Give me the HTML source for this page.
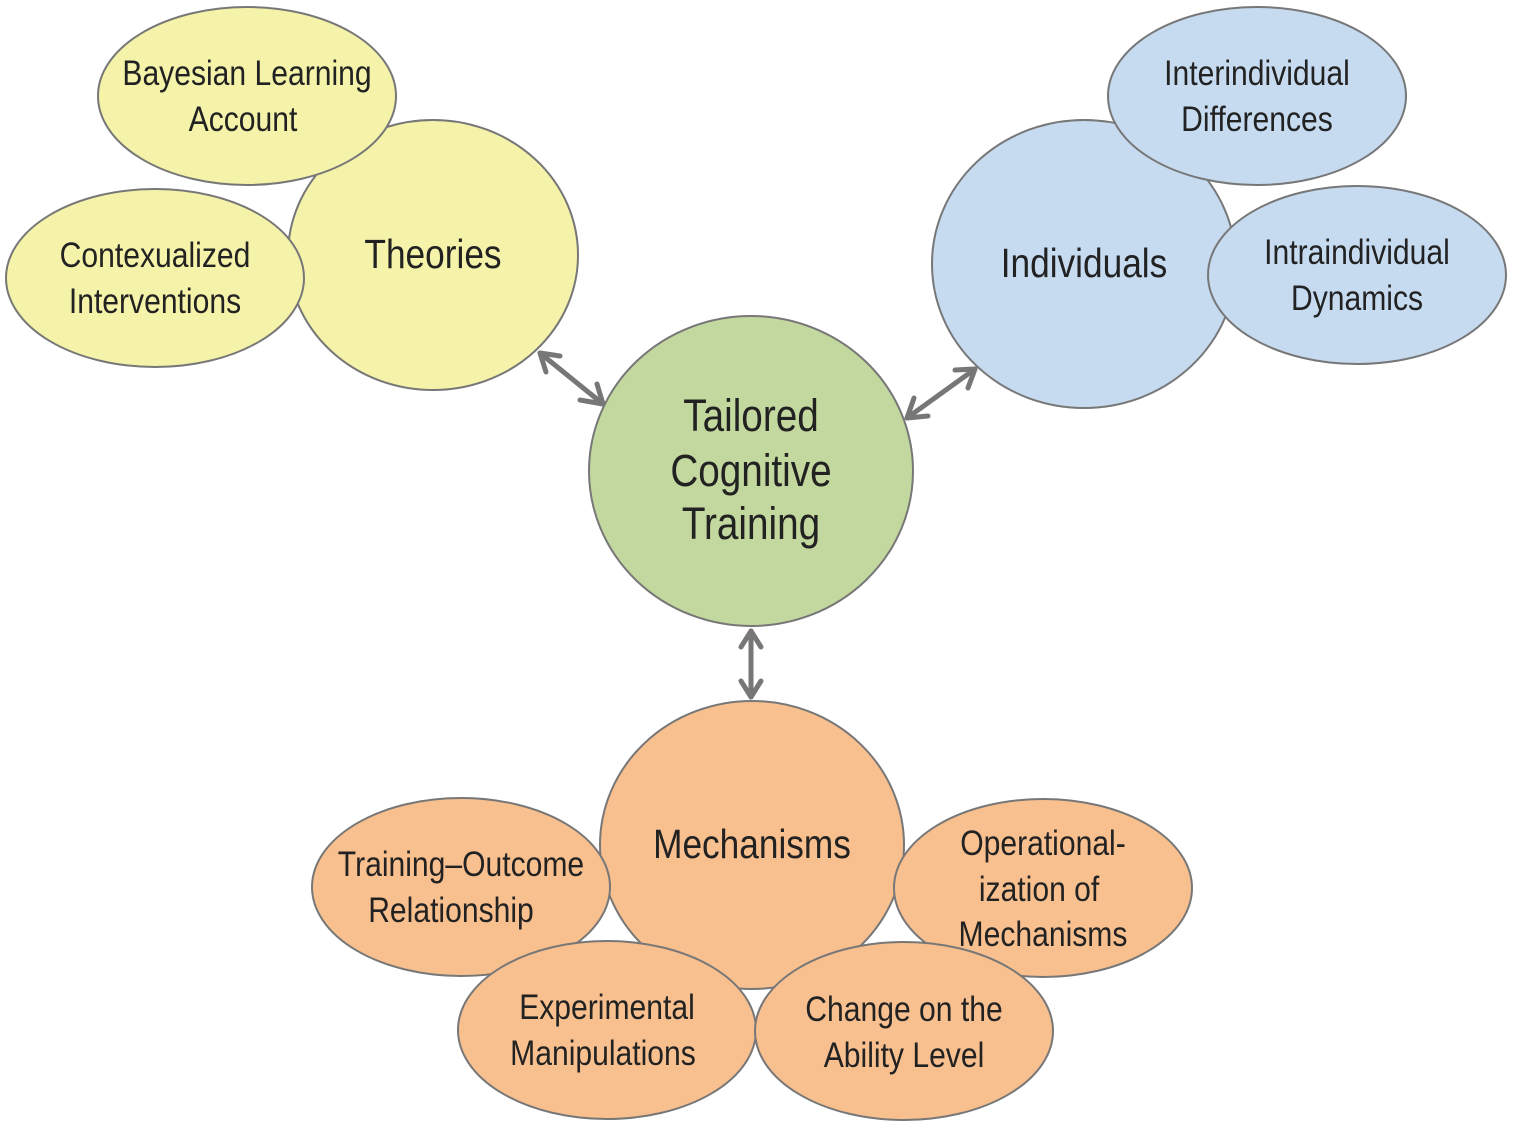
<!DOCTYPE html>
<html><head><meta charset="utf-8"><style>
html,body{margin:0;padding:0;background:#fff;}
svg{display:block;}
text{font-family:"Liberation Sans Narrow","Liberation Sans",sans-serif;fill:#222;text-anchor:middle;transform-box:fill-box;transform-origin:center;transform:scaleX(0.86);}
.s{font-size:35px;}
.b{font-size:41px;}
.c{font-size:45px;}
</style></head><body>
<svg width="1513" height="1129" viewBox="0 0 1513 1129" xmlns="http://www.w3.org/2000/svg">
<g stroke="#777" stroke-width="2">
<ellipse cx="433" cy="255" rx="145" ry="135" fill="#f5f3a9"/>
<ellipse cx="247" cy="96" rx="149" ry="89" fill="#f5f3a9"/>
<ellipse cx="155" cy="278" rx="149" ry="89" fill="#f5f3a9"/>
<ellipse cx="1084" cy="264" rx="152" ry="144" fill="#c6dbf0"/>
<ellipse cx="1257" cy="96" rx="149" ry="89" fill="#c6dbf0"/>
<ellipse cx="1357" cy="275" rx="149" ry="89" fill="#c6dbf0"/>
<ellipse cx="751" cy="471" rx="162" ry="155" fill="#c3d89e"/>
<ellipse cx="752" cy="845" rx="152" ry="144" fill="#f9c08f"/>
<ellipse cx="461" cy="887" rx="149" ry="89" fill="#f9c08f"/>
<ellipse cx="1043" cy="888" rx="149" ry="89" fill="#f9c08f"/>
<ellipse cx="607" cy="1030" rx="149" ry="89" fill="#f9c08f"/>
<ellipse cx="904" cy="1031" rx="149" ry="89" fill="#f9c08f"/>
</g>
<g stroke="#777" stroke-width="5" fill="none" stroke-linecap="round" stroke-linejoin="round">
<line x1="540" y1="353" x2="603" y2="404"/>
<polyline points="546,372 540,353 560,356"/>
<polyline points="580,400 603,404 597,384"/>
<line x1="907" y1="418" x2="975" y2="369"/>
<polyline points="928,416 907,418 914,398"/>
<polyline points="955,370 975,369 968,388"/>
<line x1="751" y1="631" x2="751" y2="697"/>
<polyline points="741,647 751,631 761,647"/>
<polyline points="741,681 751,697 761,681"/>
</g>
<text class="s" x="247" y="85">Bayesian Learning</text>
<text class="s" x="243" y="131">Account</text>
<text class="s" x="155" y="267">Contexualized</text>
<text class="s" x="155" y="313">Interventions</text>
<text class="b" x="433" y="268">Theories</text>
<text class="s" x="1257" y="85">Interindividual</text>
<text class="s" x="1257" y="131">Differences</text>
<text class="b" x="1084" y="277">Individuals</text>
<text class="s" x="1357" y="264">Intraindividual</text>
<text class="s" x="1357" y="310">Dynamics</text>
<text class="c" x="751" y="431">Tailored</text>
<text class="c" x="751" y="486">Cognitive</text>
<text class="c" x="751" y="539">Training</text>
<text class="b" x="752" y="858">Mechanisms</text>
<text class="s" x="461" y="876">Training–Outcome</text>
<text class="s" x="451" y="922">Relationship</text>
<text class="s" x="1043" y="855">Operational-</text>
<text class="s" x="1039" y="901">ization of</text>
<text class="s" x="1043" y="946">Mechanisms</text>
<text class="s" x="607" y="1019">Experimental</text>
<text class="s" x="603" y="1065">Manipulations</text>
<text class="s" x="904" y="1021">Change on the</text>
<text class="s" x="904" y="1067">Ability Level</text>
</svg>
</body></html>
